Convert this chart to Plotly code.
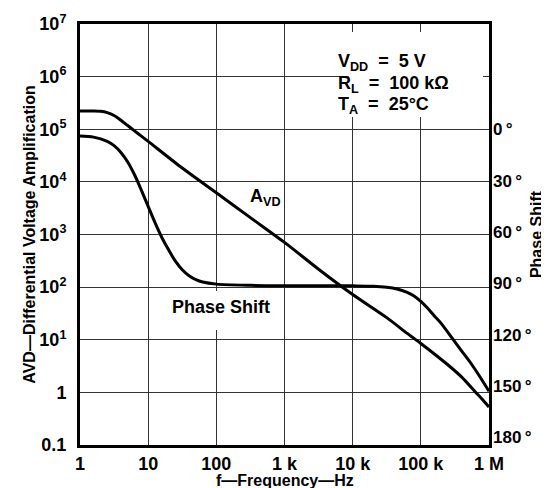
import plotly.graph_objects as go

# ---- data ----
avd_freq = [1, 1.58, 2, 2.51, 3.16, 3.98, 5.01, 6.31, 7.94, 10, 31.6, 100, 316,
            1000, 3160, 10000, 31600, 63100, 100000, 158000, 251000, 398000,
            631000, 794000, 1000000]
avd_gain = [2.22e5, 2.22e5, 2.19e5, 2.07e5, 1.82e5, 1.48e5, 1.175e5, 9.33e4,
            7.41e4, 5.89e4, 1.83e4, 6.2e3, 2.09e3, 708, 219, 72.4, 26.3, 13.2,
            8.51, 5.37, 3.31, 1.95, 1.02, 0.74, 0.525]

phase_freq = [1, 1.58, 2.51, 3.16, 3.98, 5.01, 6.31, 7.94, 10, 12.6, 15.8, 20,
              25.1, 31.6, 39.8, 50.1, 63.1, 100, 316, 1000, 3160, 10000, 20000,
              31600, 44700, 63100, 79400, 100000, 126000, 158000, 200000,
              288000, 398000, 562000, 708000, 1000000]
phase_deg = [3.9, 4.5, 7.0, 9.5, 13.5, 19, 26.5, 35.5, 45, 54.5, 63, 70.5, 77,
             82, 85.5, 87.8, 89.2, 90.4, 91.1, 91.3, 91.3, 91.4, 91.6, 92.2,
             93.2, 95.2, 97.3, 100.5, 104.5, 109, 113.5, 122, 129.5, 137.5,
             143.5, 153]

x_tickvals = [1, 10, 100, 1e3, 1e4, 1e5, 1e6]
x_ticktext = ["1", "10", "100", "1 k", "10 k", "100 k", "1 M"]
y_tickvals = [0.1, 1, 10, 100, 1e3, 1e4, 1e5, 1e6, 1e7]
y_ticktext = ["0.1", "1", "10<sup>1</sup>", "10<sup>2</sup>", "10<sup>3</sup>",
              "10<sup>4</sup>", "10<sup>5</sup>", "10<sup>6</sup>", "10<sup>7</sup>"]
p_tickvals = [0, 30, 60, 90, 120, 150, 180]
p_ticktext = ["0\u2009°", "30\u2009°", "60\u2009°", "90\u2009°", "120\u2009°",
              "150\u2009°", "180\u2009°"]

FONT = "Liberation Sans"
W, H = 549, 488
fig = go.Figure()
fig.add_trace(go.Scatter(x=avd_freq, y=avd_gain, mode="lines",
                         line=dict(color="black", width=3, shape="spline", smoothing=0.8),
                         showlegend=False, hoverinfo="skip"))
fig.add_trace(go.Scatter(x=phase_freq, y=phase_deg, mode="lines", yaxis="y2",
                         line=dict(color="black", width=3, shape="spline", smoothing=0.8),
                         showlegend=False, hoverinfo="skip"))

tickfont = dict(family=FONT, size=18, color="black", weight="bold")
fig.update_layout(
    width=W, height=H,
    margin=dict(l=72, r=68, t=16, b=51),
    paper_bgcolor="white", plot_bgcolor="white",
    font=dict(family=FONT, color="black"),
    xaxis=dict(type="log", range=[0, 6], tickvals=x_tickvals, ticktext=x_ticktext,
               tickfont=tickfont, showgrid=True, gridcolor="#333", gridwidth=1,
               showline=True, linecolor="black", linewidth=3, mirror=True,
               ticks="", zeroline=False, automargin=False, ticklabelstandoff=0),
    yaxis=dict(type="log", range=[-1, 7], tickvals=y_tickvals, ticktext=y_ticktext,
               tickfont=tickfont, showgrid=True, gridcolor="#333", gridwidth=1,
               showline=True, linecolor="black", linewidth=3, mirror=True,
               ticks="", zeroline=False, automargin=False, ticklabelstandoff=7,
               title=dict(text="AVD—Differential Voltage Amplification", standoff=0,
                          font=dict(family=FONT, size=16, weight="bold"))),
    yaxis2=dict(overlaying="y", side="right", range=[184.4, -61.6],
                tickvals=p_tickvals, ticktext=p_ticktext,
                tickfont=dict(family=FONT, size=17, color="black", weight="bold"),
                showgrid=False, showline=False, zeroline=False, ticks="",
                automargin=False, ticklabelstandoff=3,
                title=dict(text="Phase Shift", standoff=0,
                           font=dict(family=FONT, size=16, weight="bold"))),
)

# x-axis title placed explicitly
fig.add_annotation(x=0.5, y=(437 - 472) / 421, xref="paper", yref="paper",
                   xanchor="center", yanchor="middle", text="f—Frequency—Hz",
                   showarrow=False, font=dict(family=FONT, size=16, weight="bold"))

# white patches that interrupt the grid behind the text blocks
fig.add_shape(type="rect", xref="paper", yref="paper", layer="above",
              x0=(340 - 72) / 408, x1=(474 - 72) / 408,
              y0=(437 - 109) / 421, y1=(437 - 24) / 421,
              fillcolor="white", line=dict(width=0))
fig.add_shape(type="rect", xref="paper", yref="paper", layer="above",
              x0=(152 - 72) / 408, x1=(272 - 72) / 408,
              y0=(437 - 322) / 421, y1=(437 - 283) / 421,
              fillcolor="white", line=dict(width=0))

ann_font = dict(family=FONT, size=18, color="black", weight="bold")
fig.add_annotation(x=2.72, y=3.70, xref="x", yref="y", text="A<sub>VD</sub>",
                   showarrow=False, font=ann_font, bgcolor="white", borderpad=1)
fig.add_annotation(x=2.07, y=1.62, xref="x", yref="y", text="Phase Shift",
                   showarrow=False, font=ann_font)
for txt, yy in [("V<sub>DD</sub>  =  5 V", 45), ("R<sub>L</sub>  =  100 kΩ", 70),
                ("T<sub>A</sub>  =  25°C", 95)]:
    fig.add_annotation(x=343 / W, y=1 - yy / H, xref="paper", yref="paper",
                       xanchor="left", yanchor="middle", text=txt, showarrow=False,
                       font=ann_font)

fig.write_html("out.html")
